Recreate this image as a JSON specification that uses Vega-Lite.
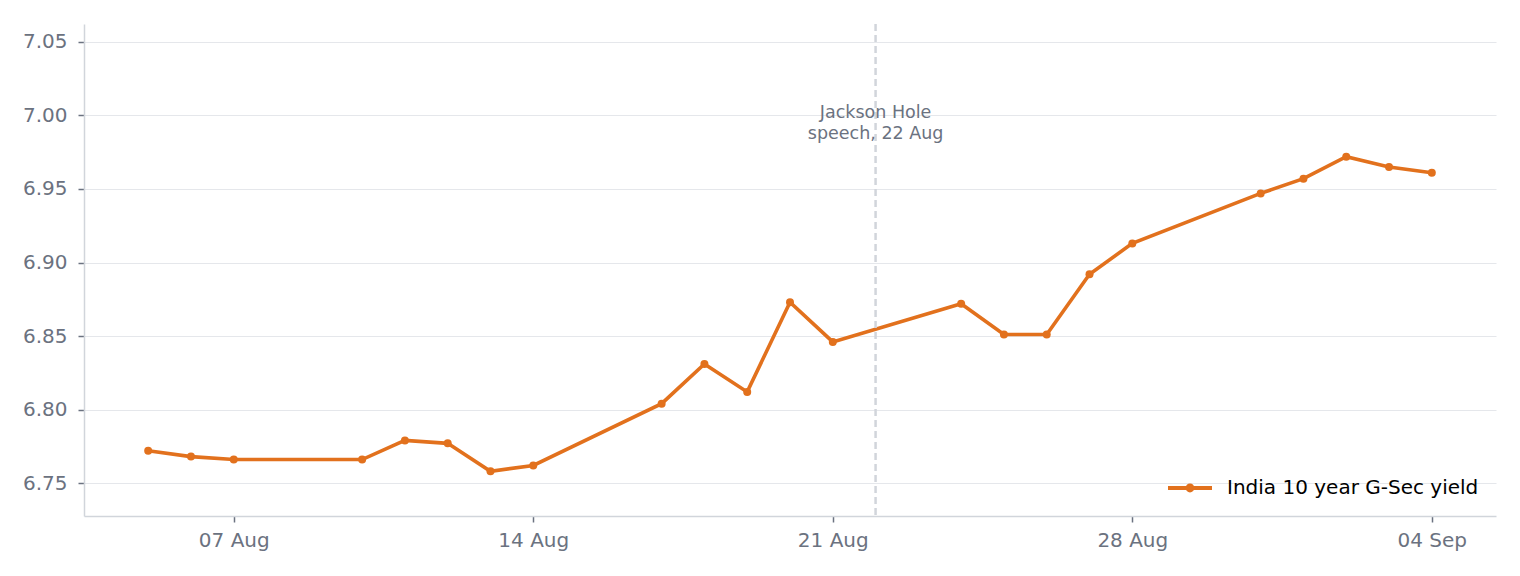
{
  "$schema": "https://vega.github.io/schema/vega-lite/v6.json",
  "width": 1412,
  "height": 492,
  "autosize": {"type": "none"},
  "padding": {"left": 84, "top": 24, "right": 24, "bottom": 60},
  "background": "white",
  "config": {
    "font": "DejaVu Sans",
    "view": {"stroke": null},
    "axis": {
      "labelFont": "DejaVu Sans",
      "labelFontSize": 20,
      "labelColor": "#6b7280",
      "domainColor": "#d1d5db",
      "domainWidth": 1.5,
      "tickColor": "#6b7280",
      "tickWidth": 1.5,
      "tickSize": 6,
      "gridColor": "#e5e7eb",
      "gridWidth": 1,
      "title": null
    }
  },
  "layer": [
    {
      "data": {
        "values": [
          {"date": "2025-08-05", "yield": 6.772},
          {"date": "2025-08-06", "yield": 6.768},
          {"date": "2025-08-07", "yield": 6.766},
          {"date": "2025-08-10", "yield": 6.766},
          {"date": "2025-08-11", "yield": 6.779},
          {"date": "2025-08-12", "yield": 6.777},
          {"date": "2025-08-13", "yield": 6.758},
          {"date": "2025-08-14", "yield": 6.762},
          {"date": "2025-08-17", "yield": 6.804},
          {"date": "2025-08-18", "yield": 6.831},
          {"date": "2025-08-19", "yield": 6.812},
          {"date": "2025-08-20", "yield": 6.873},
          {"date": "2025-08-21", "yield": 6.846},
          {"date": "2025-08-24", "yield": 6.872},
          {"date": "2025-08-25", "yield": 6.851},
          {"date": "2025-08-26", "yield": 6.851},
          {"date": "2025-08-27", "yield": 6.892},
          {"date": "2025-08-28", "yield": 6.913},
          {"date": "2025-08-31", "yield": 6.947},
          {"date": "2025-09-01", "yield": 6.957},
          {"date": "2025-09-02", "yield": 6.972},
          {"date": "2025-09-03", "yield": 6.965},
          {"date": "2025-09-04", "yield": 6.961}
        ]
      },
      "encoding": {
        "x": {
          "field": "date",
          "type": "temporal",
          "scale": {
            "type": "utc",
            "domain": [
              {"year": 2025, "month": 8, "date": 3, "hours": 12, "utc": true},
              {"year": 2025, "month": 9, "date": 5, "hours": 12, "utc": true}
            ]
          },
          "axis": {
            "grid": false,
            "format": "%d %b",
            "labelPadding": 8,
            "values": [
              {"year": 2025, "month": 8, "date": 7, "utc": true},
              {"year": 2025, "month": 8, "date": 14, "utc": true},
              {"year": 2025, "month": 8, "date": 21, "utc": true},
              {"year": 2025, "month": 8, "date": 28, "utc": true},
              {"year": 2025, "month": 9, "date": 4, "utc": true}
            ]
          }
        },
        "y": {
          "field": "yield",
          "type": "quantitative",
          "scale": {"domain": [6.7276, 7.0622], "nice": false, "zero": false},
          "axis": {
            "grid": true,
            "format": ".2f",
            "labelPadding": 11,
            "values": [6.75, 6.8, 6.85, 6.9, 6.95, 7.0, 7.05]
          }
        },
        "color": {
          "datum": "India 10 year G-Sec yield",
          "type": "nominal",
          "scale": {"range": ["#e2711d"]},
          "legend": {
            "title": null,
            "orient": "none",
            "legendX": 1084,
            "legendY": 442,
            "padding": 0,
            "labelFontSize": 20,
            "labelColor": "black",
            "labelFont": "DejaVu Sans",
            "labelOffset": 15,
            "labelLimit": 400,
            "symbolType": "M-1,-0.09H1V0.09H-1Z M0.2,0 A0.2,0.2 0 1,1 -0.2,0 A0.2,0.2 0 1,1 0.2,0 Z",
            "symbolSize": 1936,
            "symbolFillColor": "#e2711d",
            "symbolStrokeWidth": 0,
            "symbolOpacity": 1
          }
        }
      },
      "layer": [
        {"mark": {"type": "line", "strokeWidth": 3.6}},
        {"mark": {"type": "point", "filled": true, "size": 64, "opacity": 1}}
      ]
    },
    {
      "data": {"values": [{"date": "2025-08-22"}]},
      "mark": {"type": "rule", "color": "#d1d5db", "strokeWidth": 2.5, "strokeDash": [7, 4]},
      "encoding": {
        "x": {"field": "date", "type": "temporal"}
      }
    },
    {
      "data": {"values": [{"date": "2025-08-22", "label": ["Jackson Hole", "speech, 22 Aug"]}]},
      "mark": {"type": "text", "color": "#6b7280", "fontSize": 17.5, "font": "DejaVu Sans", "lineHeight": 21, "align": "center", "baseline": "middle"},
      "encoding": {
        "x": {"field": "date", "type": "temporal"},
        "y": {"datum": 7.002},
        "text": {"field": "label"}
      }
    }
  ]
}
